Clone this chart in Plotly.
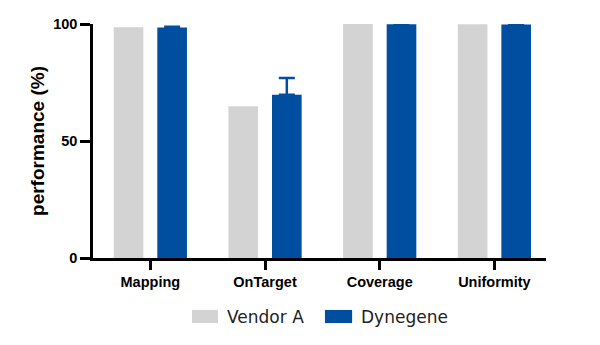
import plotly.graph_objects as go

categories = ["Mapping", "OnTarget", "Coverage", "Uniformity"]
vendor_a = [98.6, 64.8, 100.0, 99.9]
dynegene = [98.5, 69.8, 99.9, 99.8]
dynegene_err = [0.3, 7.1, 0.1, 0.1]
series_names = ["Vendor A", "Dynegene"]
y_ticks = [0, 50, 100]

GRAY = "#D3D3D3"
BLUE = "#004EA0"

fig = go.Figure()
fig.add_trace(go.Bar(x=categories, y=vendor_a, name=series_names[0],
                     marker=dict(color=GRAY, line=dict(width=0))))
fig.add_trace(go.Bar(x=categories, y=dynegene, name=series_names[1],
                     marker=dict(color=BLUE, line=dict(width=0)),
                     error_y=dict(type="data", symmetric=False, array=dynegene_err,
                                  arrayminus=[0]*len(dynegene_err),
                                  color=BLUE, thickness=2.5, width=8)))

tickfont = dict(family="Liberation Sans, Arial, sans-serif", size=14.5, color="#000", weight="bold")
fig.update_layout(
    width=600, height=345,
    margin=dict(l=93, r=54, t=24, b=87),
    paper_bgcolor="white", plot_bgcolor="white",
    barmode="group", bargap=0.24, bargroupgap=0.32,
    showlegend=False,
    xaxis=dict(range=[-0.5, 3.45], showline=True, linecolor="#000", linewidth=2.5,
               ticks="outside", ticklen=9, tickwidth=2.5, tickcolor="#000",
               tickfont=tickfont, showgrid=False, zeroline=False),
    yaxis=dict(range=[0, 100], showline=True, linecolor="#000", linewidth=2.5,
               ticks="outside", ticklen=10, tickwidth=2.5, tickcolor="#000",
               tickvals=y_ticks, tickfont=tickfont, showgrid=False, zeroline=False,
               title=dict(text="performance (%)", standoff=4,
                          font=dict(family="Liberation Sans, Arial, sans-serif", size=19,
                                    color="#000", weight="bold"))),
)

# custom legend
legend_items = [(series_names[0], GRAY, 0.2185, 0.276, 0.291),
                (series_names[1], BLUE, 0.512, 0.572, 0.587)]
for name, col, x0, x1, tx in legend_items:
    fig.add_shape(type="rect", xref="paper", yref="paper", x0=x0, x1=x1, y0=-0.278, y1=-0.222,
                  fillcolor=col, line=dict(width=0))
    fig.add_annotation(xref="paper", yref="paper", x=tx, y=-0.25, text=name, showarrow=False,
                       xanchor="left", yanchor="middle",
                       font=dict(family="DejaVu Sans, sans-serif", size=17, color="#222"))

fig.write_html("out.html")
